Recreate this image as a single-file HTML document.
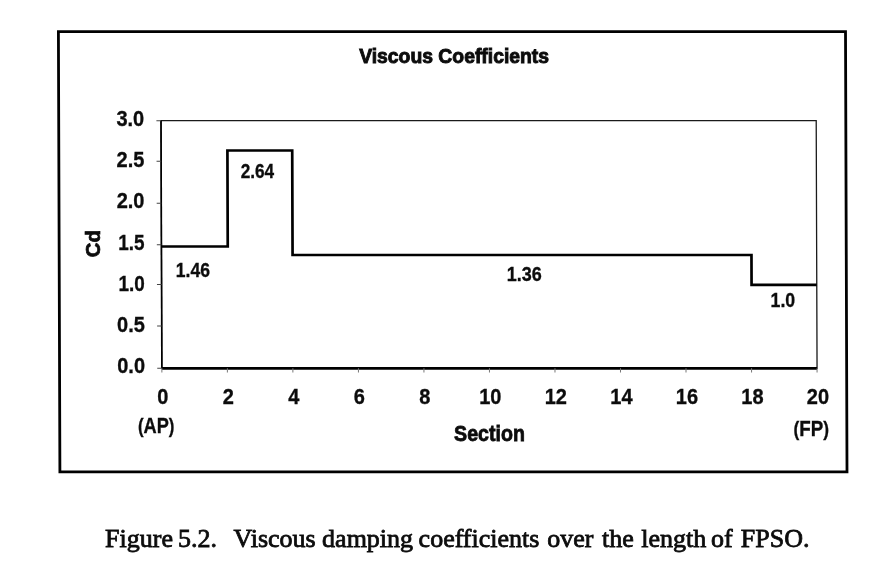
<!DOCTYPE html>
<html><head><meta charset="utf-8">
<style>
html,body{margin:0;padding:0;background:#fff;}
body{width:880px;height:583px;overflow:hidden;position:relative;}
svg{position:absolute;left:0;top:0;}
.t{font-family:"Liberation Sans",Arial,Helvetica,sans-serif;fill:#0c0c0c;font-weight:bold;}
.cap{font-family:"Liberation Serif","Times New Roman",Times,serif;fill:#0c0c0c;}
</style></head><body>
<svg width="880" height="583" viewBox="0 0 880 583">
<g transform="skewX(0.195)">
<rect x="58.3" y="31.6" width="787.1" height="440.3" fill="none" stroke="#000" stroke-width="2.8"/>
<rect x="160.6" y="120.7" width="655.20" height="247.60" fill="none" stroke="#1a1a1a" stroke-width="1.3"/>
<line x1="160.6" y1="368.3" x2="815.8" y2="368.3" stroke="#000" stroke-width="2.7"/>
<line x1="160.6" y1="120.7" x2="160.6" y2="368.3" stroke="#000" stroke-width="1.6"/>
<g stroke="#444" stroke-width="1">
<line x1="156" y1="120.70" x2="160.6" y2="120.70"/>
<line x1="156" y1="161.20" x2="160.6" y2="161.20"/>
<line x1="156" y1="203.30" x2="160.6" y2="203.30"/>
<line x1="156" y1="244.70" x2="160.6" y2="244.70"/>
<line x1="156" y1="284.40" x2="160.6" y2="284.40"/>
<line x1="156" y1="326.10" x2="160.6" y2="326.10"/>
<line x1="156" y1="368.30" x2="160.6" y2="368.30"/>
</g>
<g stroke="#777" stroke-width="1">
<line x1="160.60" y1="368.3" x2="160.60" y2="372.5"/>
<line x1="226.12" y1="368.3" x2="226.12" y2="372.5"/>
<line x1="291.64" y1="368.3" x2="291.64" y2="372.5"/>
<line x1="357.16" y1="368.3" x2="357.16" y2="372.5"/>
<line x1="422.68" y1="368.3" x2="422.68" y2="372.5"/>
<line x1="488.20" y1="368.3" x2="488.20" y2="372.5"/>
<line x1="553.72" y1="368.3" x2="553.72" y2="372.5"/>
<line x1="619.24" y1="368.3" x2="619.24" y2="372.5"/>
<line x1="684.76" y1="368.3" x2="684.76" y2="372.5"/>
<line x1="750.28" y1="368.3" x2="750.28" y2="372.5"/>
<line x1="815.80" y1="368.3" x2="815.80" y2="372.5"/>
</g>
<polyline points="160.60,246.50 226.90,246.50 226.90,150.50 291.70,150.50 291.70,255.00 750.60,255.00 750.60,284.80 815.80,284.80" fill="none" stroke="#000" stroke-width="2.7" stroke-linejoin="miter"/>
</g>
<text class="t" transform="translate(359.20,63.40) scale(1,1.06)" font-size="19.5" text-anchor="start" textLength="189.8" lengthAdjust="spacingAndGlyphs" stroke="#0c0c0c" stroke-width="0.9">Viscous Coefficients</text>
<text class="t" transform="translate(144.20,125.68) scale(1,1.08)" font-size="20" text-anchor="end"  stroke="#0c0c0c" stroke-width="0.3">3.0</text>
<text class="t" transform="translate(144.34,167.23) scale(1,1.08)" font-size="20" text-anchor="end"  stroke="#0c0c0c" stroke-width="0.3">2.5</text>
<text class="t" transform="translate(144.48,208.33) scale(1,1.08)" font-size="20" text-anchor="end"  stroke="#0c0c0c" stroke-width="0.3">2.0</text>
<text class="t" transform="translate(144.62,250.23) scale(1,1.08)" font-size="20" text-anchor="end" textLength="26.3" lengthAdjust="spacingAndGlyphs" stroke="#0c0c0c" stroke-width="0.3">1.5</text>
<text class="t" transform="translate(144.76,290.63) scale(1,1.08)" font-size="20" text-anchor="end" textLength="26.3" lengthAdjust="spacingAndGlyphs" stroke="#0c0c0c" stroke-width="0.3">1.0</text>
<text class="t" transform="translate(144.90,331.93) scale(1,1.08)" font-size="20" text-anchor="end"  stroke="#0c0c0c" stroke-width="0.3">0.5</text>
<text class="t" transform="translate(145.04,373.03) scale(1,1.08)" font-size="20" text-anchor="end"  stroke="#0c0c0c" stroke-width="0.3">0.0</text>
<text class="t" transform="translate(162.75,404.00) scale(1,1.08)" font-size="20" text-anchor="middle"  stroke="#0c0c0c" stroke-width="0.3">0</text>
<text class="t" transform="translate(228.27,404.00) scale(1,1.08)" font-size="20" text-anchor="middle"  stroke="#0c0c0c" stroke-width="0.3">2</text>
<text class="t" transform="translate(293.79,404.00) scale(1,1.08)" font-size="20" text-anchor="middle"  stroke="#0c0c0c" stroke-width="0.3">4</text>
<text class="t" transform="translate(359.31,404.00) scale(1,1.08)" font-size="20" text-anchor="middle"  stroke="#0c0c0c" stroke-width="0.3">6</text>
<text class="t" transform="translate(424.83,404.00) scale(1,1.08)" font-size="20" text-anchor="middle"  stroke="#0c0c0c" stroke-width="0.3">8</text>
<text class="t" transform="translate(490.35,404.00) scale(1,1.08)" font-size="20" text-anchor="middle"  stroke="#0c0c0c" stroke-width="0.3">10</text>
<text class="t" transform="translate(555.87,404.00) scale(1,1.08)" font-size="20" text-anchor="middle"  stroke="#0c0c0c" stroke-width="0.3">12</text>
<text class="t" transform="translate(621.39,404.00) scale(1,1.08)" font-size="20" text-anchor="middle"  stroke="#0c0c0c" stroke-width="0.3">14</text>
<text class="t" transform="translate(686.91,404.00) scale(1,1.08)" font-size="20" text-anchor="middle"  stroke="#0c0c0c" stroke-width="0.3">16</text>
<text class="t" transform="translate(752.43,404.00) scale(1,1.08)" font-size="20" text-anchor="middle"  stroke="#0c0c0c" stroke-width="0.3">18</text>
<text class="t" transform="translate(817.95,404.00) scale(1,1.08)" font-size="20" text-anchor="middle"  stroke="#0c0c0c" stroke-width="0.3">20</text>
<text class="t" transform="translate(156.20,433.30) scale(1,1.1)" font-size="20" text-anchor="middle" textLength="36.5" lengthAdjust="spacingAndGlyphs" stroke="#0c0c0c" stroke-width="0.3"><tspan font-size="18.5">(</tspan>AP<tspan font-size="18.5">)</tspan></text>
<text class="t" transform="translate(811.30,435.70) scale(1,1.1)" font-size="20" text-anchor="middle" textLength="35.5" lengthAdjust="spacingAndGlyphs" stroke="#0c0c0c" stroke-width="0.3"><tspan font-size="18.5">(</tspan>FP<tspan font-size="18.5">)</tspan></text>
<text class="t" transform="translate(489.50,441.40) scale(1,1.1)" font-size="19.6" text-anchor="middle" stroke="#0c0c0c" stroke-width="0.7">Section</text>
<text class="t" transform="translate(100.4,243.7) rotate(-90) scale(1,1.0)" font-size="20.3" text-anchor="middle" stroke="#0c0c0c" stroke-width="0.7">Cd</text>
<text class="t" transform="translate(240.70,177.80) scale(1,1.1)" font-size="18" text-anchor="start" textLength="33.5" lengthAdjust="spacingAndGlyphs" stroke="#0c0c0c" stroke-width="0.3">2.64</text>
<text class="t" transform="translate(175.80,277.20) scale(1,1.1)" font-size="18" text-anchor="start" textLength="34.2" lengthAdjust="spacingAndGlyphs" stroke="#0c0c0c" stroke-width="0.3">1.46</text>
<text class="t" transform="translate(506.80,280.90) scale(1,1.1)" font-size="18" text-anchor="start"  stroke="#0c0c0c" stroke-width="0.3">1.36</text>
<text class="t" transform="translate(770.60,307.40) scale(1,1.1)" font-size="18" text-anchor="start" textLength="24.6" lengthAdjust="spacingAndGlyphs" stroke="#0c0c0c" stroke-width="0.3">1.0</text>
<text class="cap" transform="translate(0,546.6) scale(1,0.985)" font-size="26" stroke="#0c0c0c" stroke-width="0.8"><tspan x="105.1">Figure</tspan> <tspan x="178.0">5.2.</tspan> <tspan x="233.5">Viscous</tspan> <tspan x="322.1">damping</tspan> <tspan x="418.6">coefficients</tspan> <tspan x="547.3">over</tspan> <tspan x="602.1">the</tspan> <tspan x="641.2">length</tspan> <tspan x="711.1">of</tspan> <tspan x="740.8">FPSO.</tspan></text>
</svg>
</body></html>
